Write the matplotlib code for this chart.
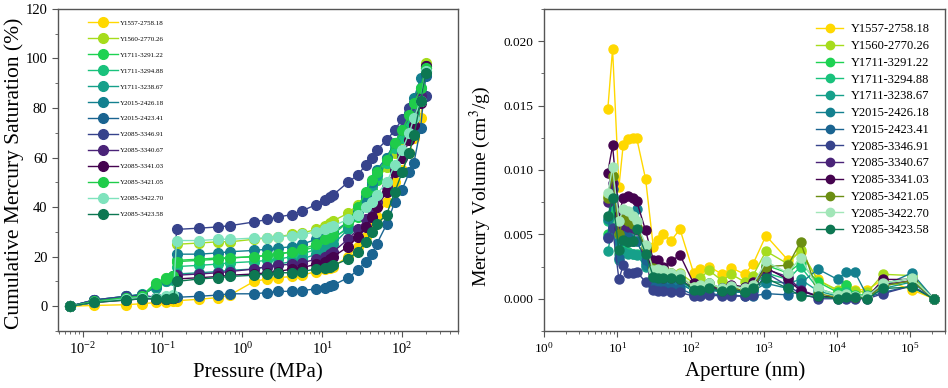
#
# Mercury intrusion curves: cumulative saturation vs pressure, and
# incremental volume vs pore aperture
#

import matplotlib.pyplot as plt
from matplotlib.ticker import LogLocator, MultipleLocator, NullFormatter

plt.rcParams['font.family'] = ['Liberation Serif', 'DejaVu Serif']
plt.rcParams['mathtext.fontset'] = 'stix'

samples = ["Y1557-2758.18", "Y1560-2770.26", "Y1711-3291.22", "Y1711-3294.88",
           "Y1711-3238.67", "Y2015-2426.18", "Y2015-2423.41", "Y2085-3346.91",
           "Y2085-3340.67", "Y2085-3341.03", "Y2085-3421.05", "Y2085-3422.70",
           "Y2085-3423.58"]

colors_left = ["#ffd800", "#a6dc1c", "#1ed252", "#19c27c", "#16a08a", "#13808f",
               "#1a6491", "#37438c", "#4a2378", "#45034f", "#1fcc4a", "#7fe3bd",
               "#0d7752"]
colors_right = ["#ffd800", "#a6dc1c", "#1ed252", "#19c27c", "#16a08a", "#13808f",
                "#1a6491", "#37438c", "#4a2378", "#45034f", "#6b8e12", "#a2e6b8",
                "#0d7752"]

# pressure (MPa)
pressure = [0.007, 0.014, 0.035, 0.056, 0.083, 0.11, 0.137, 0.15, 0.29, 0.5, 0.7,
            1.4, 2.05, 2.8, 4.2, 5.6, 8.4, 11, 12.6, 13.8, 21, 28, 35, 42, 48, 64,
            81, 100, 123, 141, 171, 198]

# cumulative mercury saturation (%)
sat_y1557 = [0, 0.3, 0.6, 1.0, 1.5, 1.8, 2.0, 2.2, 2.8, 3.5, 4.5, 10, 11, 11.5, 12, 12.5,
             14, 15, 15.5, 16, 20, 24, 28, 32, 36, 42, 50, 55, 62, 68, 76, 96]
sat_y1560 = [0, 1.5, 3, 4, 9, 11.5, 12, 25, 25.5, 26, 26, 27, 27.5, 28, 29, 29.5,
             31, 32.5, 33.5, 34.5, 37.5, 41, 45, 48, 51, 56, 62, 67, 73, 78, 84, 98]
sat_y1711a = [0, 2, 3.5, 4.5, 9.5, 11.5, 12, 18.5, 19, 19.5, 19.5, 20, 20.5, 21, 22, 22.5,
              24, 26, 27, 28, 31, 36, 42, 47, 51, 58, 65, 70, 76, 80, 86, 95]
sat_y1711b = [0, 2, 4, 4.5, 8, 10, 10.5, 16, 16.5, 17, 17.5, 18, 18.5, 19, 20, 21,
              23, 25, 26, 27, 32, 38, 44, 49, 53, 58, 64, 68, 74, 78, 85, 95]
sat_y1711c = [0, 2.5, 4, 5, 7.5, 10, 11, 13, 13.5, 14, 14.5, 15, 16, 17, 18, 19,
              21, 23, 24, 25, 31, 37, 43, 49, 53, 60, 66, 71, 77, 82, 88, 96]
sat_y2015a = [0, 2.5, 4, 4.5, 8, 10.5, 12, 21, 21, 21.5, 22, 22.5, 23, 23.5, 24, 25,
              27, 28, 29, 30, 34, 38, 44, 50, 55, 60, 66, 71, 78, 84, 92, 96]
sat_y2015b = [0, 2.5, 3, 3.2, 3.3, 3.4, 3.5, 3.6, 4, 4.5, 5, 5, 5.5, 6, 6, 6.3,
              7, 7.5, 8, 8.5, 11.5, 14.5, 18, 21, 25, 33, 42, 47, 54, 58, 72, 93]
sat_y2085a = [0, 2.5, 4, 4.5, 3.5, 3.5, 3.5, 31, 31.5, 32, 32.5, 34, 35, 36, 37, 38.5,
              41, 43, 44, 45, 50, 53, 57, 60, 63, 67, 71, 75.5, 80, 82, 84, 85]
sat_y2085b = [0, 1.5, 3, 3.5, 3, 3, 3.5, 12.5, 13, 13.5, 14, 15, 16, 16.5, 17, 17.5,
              19, 20, 21, 22, 27, 31, 35, 39, 42, 48, 55, 62, 70, 76, 85, 97]
sat_y2085c = [0, 1.5, 2.5, 3, 3, 3, 3.2, 11, 11.5, 12, 12.5, 13, 13.5, 14, 15, 15.5,
              17, 18, 19, 20, 24, 28, 32, 36, 40, 46, 54, 60, 67, 73, 82, 97]
sat_y2085d = [0, 2, 3.5, 4, 9, 11, 12, 18, 18.5, 19, 19.5, 20, 20.5, 21, 22, 23,
              25, 27, 28, 29, 34, 40, 46, 51, 54, 59, 66, 71, 77, 82, 88, 96]
sat_y2085e = [0, 1.5, 3, 3.5, 3.5, 4, 4.5, 26.5, 26.5, 27, 27, 27.5, 27.5, 28, 28.5, 29,
              30, 31, 32, 32.5, 35, 37, 40, 42, 45, 50, 57, 63, 70, 76, 83, 95]
sat_y2085f = [0, 1.5, 2.5, 3, 3, 3, 3.2, 10, 11, 11.5, 12, 12.5, 13, 13.5, 13.5, 14,
              15, 15.5, 16, 16.5, 19, 22, 26, 30, 33, 37, 46, 54, 62, 69, 83, 94]

# pore aperture (nm)
aperture = [7.4, 8.6, 10.5, 12.0, 14.0, 16.5, 18.3, 24.3, 31, 36, 42.5, 54, 71.6, 110,
            134, 179, 270, 361, 550, 713, 1070, 2140, 3180, 5500, 10200, 13400,
            17400, 25900, 42500, 105000, 210000]

# incremental mercury volume (1e-3 cm3/g)
vol_y1557 = [14.7, 19.4, 8.7, 11.9, 12.4, 12.5, 12.5, 9.3, 4.0, 4.6, 5.0, 4.5, 5.4, 2.0, 2.3,
             2.5, 1.9, 2.4, 1.9, 2.7, 4.9, 3.0, 3.6, 1.5, 0.6, 0.7, 0.7, 0.7, 1.5, 0.7, 0.0]
vol_y1560 = [8.0, 9.5, 5.0, 6.5, 6.0, 5.8, 5.5, 4.0, 2.5, 2.3, 2.4, 2.0, 2.0, 1.2, 1.6,
             2.2, 1.4, 1.9, 1.3, 1.8, 3.7, 2.7, 3.8, 1.4, 0.7, 1.1, 0.6, 0.5, 1.9, 1.8, 0.0]
vol_y1711a = [5.0, 6.5, 4.0, 5.5, 5.0, 4.5, 4.5, 3.0, 1.8, 1.8, 1.7, 1.6, 1.5, 0.8, 1.0,
              1.2, 0.8, 1.0, 0.9, 1.2, 2.6, 2.0, 2.8, 1.3, 0.5, 1.1, 0.3, 0.3, 1.2, 1.6, 0.0]
vol_y1711b = [6.0, 7.2, 3.5, 4.0, 3.6, 3.5, 3.5, 2.8, 1.6, 1.6, 1.5, 1.4, 1.4, 0.7, 0.9,
              1.0, 0.6, 0.8, 0.6, 0.9, 2.0, 1.5, 2.5, 0.8, 0.3, 0.5, 0.2, 0.2, 1.0, 1.4, 0.0]
vol_y1711c = [3.7, 5.5, 3.0, 3.6, 3.5, 3.5, 3.4, 2.5, 1.4, 1.4, 1.3, 1.2, 1.2, 0.6, 0.6,
              0.8, 0.5, 0.6, 0.5, 0.7, 1.4, 1.2, 1.5, 0.6, 0.2, 0.3, 0.1, 0.1, 0.8, 1.3, 0.0]
vol_y2015a = [6.2, 8.0, 4.5, 4.7, 4.5, 4.5, 7.0, 2.6, 1.5, 1.5, 1.4, 1.3, 1.2, 0.6, 0.6,
              0.7, 0.5, 0.5, 0.5, 0.6, 1.2, 0.8, 1.2, 2.3, 1.5, 2.1, 2.1, 0.2, 1.0, 2.0, 0.0]
vol_y2015b = [4.8, 8.5, 3.2, 5.0, 4.8, 4.5, 4.5, 3.0, 1.0, 0.9, 0.9, 0.8, 0.8, 0.3, 0.4,
              0.4, 0.3, 0.3, 0.2, 0.2, 0.4, 0.3, 0.6, 0.2, 0.1, 0.1, 0.1, 0.1, 0.5, 1.0, 0.0]
vol_y2085a = [4.7, 5.5, 1.5, 2.6, 2.0, 2.0, 2.1, 1.3, 0.7, 0.6, 0.6, 0.5, 0.5, 0.2, 0.2,
              0.3, 0.2, 0.2, 0.2, 0.3, 2.0, 1.0, 0.4, 0.0, 0.0, 0.0, 0.0, 0.0, 0.4, 1.0, 0.0]
vol_y2085b = [7.5, 9.0, 5.5, 5.8, 5.6, 5.5, 5.3, 3.8, 2.0, 1.7, 1.6, 1.6, 1.5, 0.8, 0.8,
              0.9, 0.6, 0.7, 0.6, 0.9, 2.3, 1.7, 0.7, 0.2, 0.1, 0.2, 0.1, 0.1, 1.1, 1.4, 0.0]
vol_y2085c = [9.8, 11.9, 6.5, 7.8, 8.0, 7.8, 7.6, 5.3, 3.0, 3.0, 2.5, 2.9, 3.4, 1.2, 0.9,
              0.9, 0.8, 1.1, 0.9, 1.3, 2.4, 1.5, 0.6, 0.2, 0.1, 0.2, 0.1, 0.1, 1.5, 1.5, 0.0]
vol_y2085d = [7.8, 9.5, 5.0, 6.2, 6.0, 5.8, 5.6, 4.0, 2.4, 2.2, 2.1, 2.0, 1.8, 0.9, 1.0,
              1.2, 0.7, 0.9, 0.6, 0.9, 2.5, 2.6, 4.4, 0.4, 0.1, 0.2, 0.1, 0.1, 1.0, 1.4, 0.0]
vol_y2085e = [8.2, 10.2, 6.0, 7.0, 6.8, 6.4, 6.0, 4.2, 2.2, 2.3, 2.2, 2.0, 1.9, 0.9, 1.1,
              1.2, 0.8, 1.0, 0.8, 1.1, 2.9, 2.0, 3.2, 0.8, 0.3, 0.4, 0.2, 0.2, 1.2, 1.6, 0.0]
vol_y2085f = [6.4, 7.8, 3.8, 4.6, 4.4, 4.5, 5.4, 3.5, 1.7, 1.6, 1.6, 1.6, 1.5, 0.7, 0.7,
              0.8, 0.6, 0.7, 0.5, 0.8, 1.6, 0.8, 0.2, 0.2, 0.0, 0.1, 0.1, 0.0, 0.8, 0.9, 0.0]

saturations = [sat_y1557, sat_y1560, sat_y1711a, sat_y1711b, sat_y1711c, sat_y2015a,
               sat_y2015b, sat_y2085a, sat_y2085b, sat_y2085c, sat_y2085d, sat_y2085e,
               sat_y2085f]
volumes = [vol_y1557, vol_y1560, vol_y1711a, vol_y1711b, vol_y1711c, vol_y2015a,
           vol_y2015b, vol_y2085a, vol_y2085b, vol_y2085c, vol_y2085d, vol_y2085e,
           vol_y2085f]


def style_axes(ax):
    for s in ax.spines.values():
        s.set_color("#555555")
        s.set_linewidth(1.0)
    ax.tick_params(which="both", direction="out", color="#555555")
    ax.tick_params(which="major", length=4)
    ax.tick_params(which="minor", length=2)


fig = plt.figure(figsize=(9.48, 3.88), dpi=100)
ax1 = fig.add_axes([0.061, 0.147, 0.422, 0.830])
ax2 = fig.add_axes([0.574, 0.147, 0.423, 0.830])

# left: cumulative saturation
for name, y, c in zip(samples, saturations, colors_left):
    ax1.plot(pressure, y, "-o", color=c, mfc=c, mec=c, ms=7, lw=1.0, label=name)
ax1.set_xscale("log")
ax1.set_xlim(0.0049, 500)
ax1.set_ylim(-10, 120)
ax1.yaxis.set_major_locator(MultipleLocator(20))
ax1.yaxis.set_minor_locator(MultipleLocator(10))
ax1.xaxis.set_minor_locator(LogLocator(base=10, subs=range(2, 10), numticks=20))
ax1.xaxis.set_minor_formatter(NullFormatter())
ax1.tick_params(labelsize=10.5)
ax1.set_xlabel("Pressure (MPa)", fontsize=15)
ax1.set_ylabel("Cumulative Mercury Saturation (%)", fontsize=15.5)
ax1.yaxis.set_label_coords(-0.085, 0.49)
style_axes(ax1)
ax1.legend(loc="upper left", bbox_to_anchor=(0.06, 0.985), frameon=False, fontsize=5,
           markerscale=1.0, handlelength=4.3, handletextpad=0.25, labelspacing=1.45)

# right: incremental volume
for name, y, c in zip(samples, volumes, colors_right):
    ax2.plot(aperture, [v / 1000 for v in y], "-o", color=c, mfc=c, mec=c, ms=6.5,
             lw=1.0, label=name)
ax2.set_xscale("log")
ax2.set_xlim(1, 3e5)
ax2.set_ylim(-0.0025, 0.0225)
ax2.yaxis.set_major_locator(MultipleLocator(0.005))
ax2.yaxis.set_minor_locator(MultipleLocator(0.0025))
ax2.yaxis.set_major_formatter(plt.FormatStrFormatter("%.3f"))
ax2.xaxis.set_minor_locator(LogLocator(base=10, subs=range(2, 10), numticks=20))
ax2.xaxis.set_minor_formatter(NullFormatter())
ax2.tick_params(labelsize=9.5)
ax2.set_xlabel("Aperture (nm)", fontsize=15)
ax2.set_ylabel("Mercury Volume (cm$^3$/g)", fontsize=14)
ax2.yaxis.set_label_coords(-0.127, 0.45)
style_axes(ax2)
leg = ax2.legend(loc="upper right", bbox_to_anchor=(0.99, 0.99), frameon=False,
                 fontsize=9, handlelength=2.2, handletextpad=0.6, labelspacing=0.38)
for h in leg.legend_handles:
    h.set_markersize(6)

fig.savefig("out.png", dpi=100)
